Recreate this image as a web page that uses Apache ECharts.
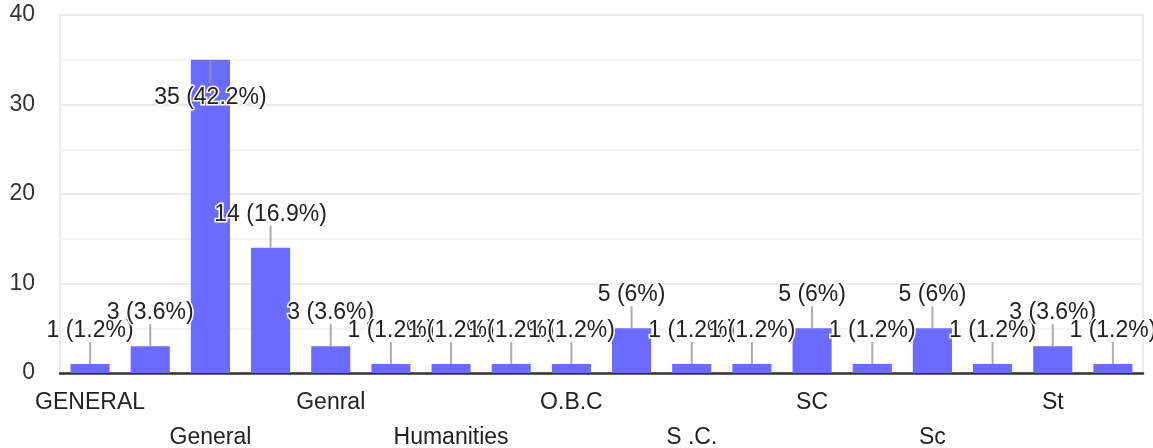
<!DOCTYPE html>
<html>
<head>
<meta charset="utf-8">
<script src="https://cdn.jsdelivr.net/npm/echarts@6/dist/echarts.min.js"></script>
<style>
  html, body { margin: 0; padding: 0; background: #fff; }
  #main { width: 1153px; height: 448px; }
</style>
</head>
<body>
<div id="main"></div>
<script>
// categories (odd ones are not labelled on the axis)
const categories = ['GENERAL', 'GEN', 'General', 'General ', 'Genral', 'Genral ', 'Humanities', 'OBC', 'O.B.C', 'Obc',
    'S .C.', 'S.C', 'SC', 'SC ', 'Sc', 'ST', 'St', 'st'];
const counts = [1, 3, 35, 14, 3, 1, 1, 1, 1, 5, 1, 1, 5, 1, 5, 1, 3, 1];
const yTicks = [0, 10, 20, 30, 40];

const FONT = 'Arial, "Liberation Sans", sans-serif';
const total = counts.reduce((a, b) => a + b, 0);

let pct = v => {
    let p = Math.round(v / total * 1000) / 10;
    return String(p).replace(/\.0$/, '');
};

// bars that reach the top get their label inside
const tall = v => v > 30;

const barData = counts.map(v => ({
    value: v,
    label: tall(v) ? { position: 'insideTop', distance: 26 } : {}
}));

// short grey leader line above each bar
const leaderData = counts.map((v, i) => ({
    value: [i, v],
    symbolOffset: tall(v) ? [0, 12] : [0, -11]
}));

const myChart = echarts.init(document.getElementById('main'));
myChart.setOption({
    animation: false,
    grid: {
        left: 60,
        right: 10,
        top: 15,
        bottom: 75,
        outerBoundsMode: 'none',
        containLabel: false,
        show: true,
        borderColor: '#ebebeb',
        borderWidth: 2
    },
    xAxis: {
        type: 'category',
        data: categories,
        axisTick: { show: false },
        axisLine: { lineStyle: { color: '#333', width: 2.5 } },
        axisLabel: {
            interval: 1,
            color: '#222',
            fontSize: 23,
            fontFamily: FONT,
            lineHeight: 35,
            margin: 12,
            formatter: (val, idx) => (idx % 4 === 2 ? '\n' + val : val)
        }
    },
    yAxis: {
        type: 'value',
        min: yTicks[0],
        max: yTicks[yTicks.length - 1],
        interval: 10,
        axisLine: { show: false },
        axisTick: { show: false },
        axisLabel: {
            color: '#333',
            fontSize: 23,
            fontFamily: FONT,
            margin: 25
        },
        splitLine: { lineStyle: { color: '#ebebeb', width: 2 } },
        minorTick: { show: false, splitNumber: 2 },
        minorSplitLine: { show: true, lineStyle: { color: '#f4f4f4', width: 2 } }
    },
    series: [
        {
            type: 'bar',
            data: barData,
            barCategoryGap: '35%',
            itemStyle: { color: '#6b6cff' },
            label: {
                show: true,
                position: 'top',
                distance: 22,
                color: '#222',
                fontSize: 23,
                fontFamily: FONT,
                textBorderColor: '#fff',
                textBorderWidth: 3,
                formatter: p => p.value + ' (' + pct(p.value) + '%)'
            }
        },
        {
            type: 'scatter',
            data: leaderData,
            symbol: 'rect',
            symbolSize: [2, 22],
            itemStyle: { color: '#999' },
            silent: true,
            z: 3
        }
    ]
});
</script>
</body>
</html>
